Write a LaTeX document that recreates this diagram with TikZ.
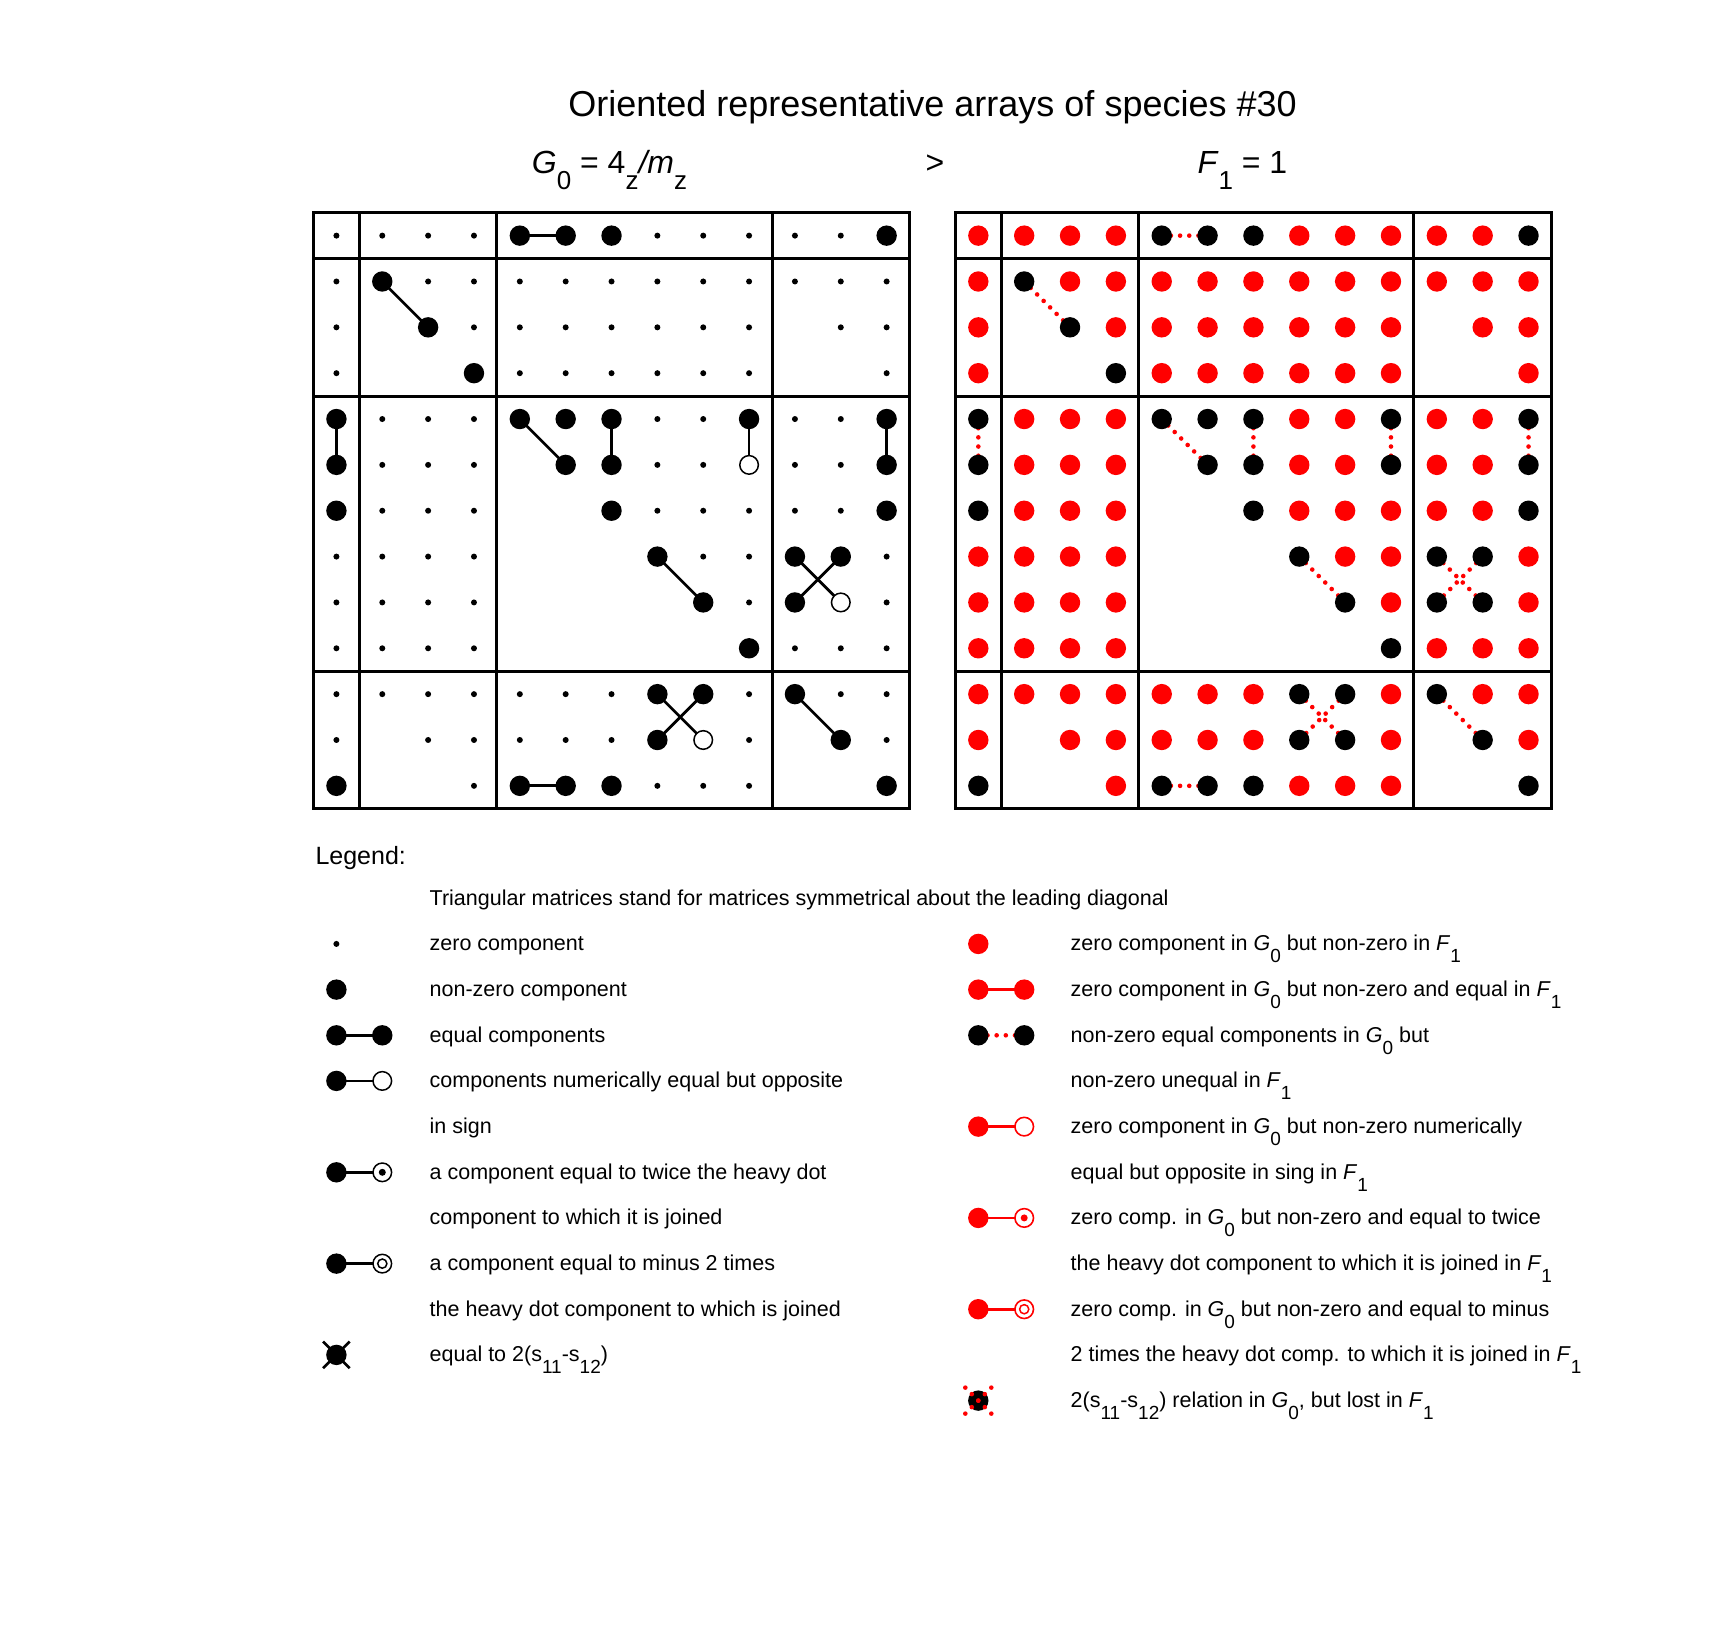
\documentclass[tikz,border=0pt]{standalone}
\usepackage{fontspec}
\usepackage{graphicx}
\setmainfont{Liberation Sans}
\pgfdeclarelayer{back}
\pgfdeclarelayer{lines}
\pgfsetlayers{back,lines,main}
\newcommand\lsub[1]{\raisebox{-0.55em}{\fontsize{19}{19}\selectfont #1}}
\newcommand\hsub[1]{\raisebox{-0.5em}{\fontsize{26}{26}\selectfont #1}}
\tikzset{
  gaz/.style={circle,fill=black,inner sep=0pt,minimum size=6pt},
  gab/.style={circle,fill=black,inner sep=0pt,minimum size=20.4pt},
  gaw/.style={circle,fill=white,draw=black,line width=1.5pt,inner sep=0pt,minimum size=18.6pt},
  gae/.style={inner sep=0pt,minimum size=0pt},
  gbz/.style={circle,fill=red,inner sep=0pt,minimum size=20.4pt},
  gbb/.style={gab}, gbw/.style={gab}, gbe/.style={gae},
  ringb/.style={circle,fill=white,draw=black,line width=1.5pt,inner sep=0pt,minimum size=18.6pt},
  ringr/.style={circle,fill=white,draw=red,line width=1.6pt,inner sep=0pt,minimum size=18.6pt},
  inring/.style={circle,draw=#1,line width=1.5pt,inner sep=0pt,minimum size=9.2pt},
  indot/.style={circle,fill=#1,inner sep=0pt,minimum size=7pt},
  conn/.style={line width=2.7pt,black},
  rsolid/.style={line width=2.7pt,red},
  rdots/.style={red,line width=4.6pt,line cap=round,dash pattern=on 0pt off 9.17pt},
  gridline/.style={line width=3pt},
  txt/.style={anchor=base west,inner sep=0pt,font=\fontsize{21.5}{26}\selectfont},
  head/.style={inner sep=0pt,font=\fontsize{32}{38}\selectfont},
}
\begin{document}
\begin{tikzpicture}[x=1pt,y=-1pt]
\useasboundingbox (0,0) rectangle (1715,1626);
\begin{pgfonlayer}{back}
\fill[white] (0,0) rectangle (1715,1626);
\end{pgfonlayer}

% title and headers
\node[anchor=base,inner sep=0pt,font=\fontsize{36}{40}\selectfont] (title) at (932.5,116.3) {Oriented representative arrays of species \#30};
\node[head,anchor=base west] (hg) at (531.7,173.3) {\textit{G}\hsub{0} = 4\hsub{z}\textit{/m}\hsub{z}};
\node[head,anchor=base] (gt) at (935,173.3) {>};
\node[head,anchor=base west] (hf) at (1197.3,173.3) {\textit{F}\hsub{1} = 1};

% grid frames
\foreach \xo in {313.5,955.4} {
  \draw[gridline] (\xo,212.7) rectangle ++(596.05,596.05);
  \foreach \kk in {1,4,10} {
    \draw[gridline] ({\xo+\kk*45.85},212.7) -- ++(0,596.05);
    \draw[gridline] (\xo,{212.7+\kk*45.85}) -- ++(596.05,0);
  }
}

% matrix entries
\foreach \rowlist [count=\ri from 0] in {
  {z,z,z,z,b,b,b,z,z,z,z,z,b},
  {z,b,z,z,z,z,z,z,z,z,z,z,z},
  {z,e,b,z,z,z,z,z,z,z,e,z,z},
  {z,e,e,b,z,z,z,z,z,z,e,e,z},
  {b,z,z,z,b,b,b,z,z,b,z,z,b},
  {b,z,z,z,e,b,b,z,z,w,z,z,b},
  {b,z,z,z,e,e,b,z,z,z,z,z,b},
  {z,z,z,z,e,e,e,b,z,z,b,b,z},
  {z,z,z,z,e,e,e,e,b,z,b,w,z},
  {z,z,z,z,e,e,e,e,e,b,z,z,z},
  {z,z,z,z,z,z,z,b,b,z,b,z,z},
  {z,e,z,z,z,z,z,b,w,z,e,b,z},
  {b,e,e,z,b,b,b,z,z,z,e,e,b}} {
  \foreach \kind [count=\ci from 0] in \rowlist {
    \edef\tmpcmd{%
      \noexpand\node[ga\kind] (a-\ri-\ci) at ({313.5+(\ci+0.5)*45.85},{212.7+(\ri+0.5)*45.85}) {};%
      \noexpand\node[gb\kind] (b-\ri-\ci) at ({955.4+(\ci+0.5)*45.85},{212.7+(\ri+0.5)*45.85}) {};}%
    \tmpcmd
  }
}

% connectors in the matrices
\begin{pgfonlayer}{lines}
\foreach \ra/\ca/\rb/\cb in {0/4/0/5,1/1/2/2,4/0/5/0,4/4/5/5,4/6/5/6,4/9/5/9,4/12/5/12,7/7/8/8,7/10/8/11,7/11/8/10,10/7/11/8,10/8/11/7,10/10/11/11,12/4/12/5} {
  \draw[conn] (a-\ra-\ca.center) -- (a-\rb-\cb.center);
  \draw[rdots] (b-\ra-\ca.center) -- (b-\rb-\cb.center);
}
\end{pgfonlayer}

% legend
\node[anchor=base west,inner sep=0pt,font=\fontsize{25}{30}\selectfont] (leg) at (315.3,864) {Legend:};
\node[txt] (t1) at (429.5,905.3) {Triangular matrices stand for matrices symmetrical about the leading diagonal};
\node[txt] (t2) at (429.5,950.9) {zero component};
\node[txt] (t3) at (429.5,996.6) {non-zero component};
\node[txt] (t4) at (429.5,1042.3) {equal components};
\node[txt] (t5) at (429.5,1087.9) {components numerically equal but opposite};
\node[txt] (t6) at (429.5,1133.6) {in sign};
\node[txt] (t7) at (429.5,1179.3) {a component equal to twice the heavy dot};
\node[txt] (t8) at (429.5,1224.9) {component to which it is joined};
\node[txt] (t9) at (429.5,1270.6) {a component equal to minus 2 times};
\node[txt] (t10) at (429.5,1316.2) {the heavy dot component to which is joined};
\node[txt] (t11) at (429.5,1361.9) {equal to 2(s\lsub{11}-s\lsub{12})};

\node[txt] (u2) at (1070.5,950.9) {zero component in \textit{G}\lsub{0} but non-zero in \textit{F}\lsub{1}};
\node[txt] (u3) at (1070.5,996.6) {zero component in \textit{G}\lsub{0} but non-zero and equal in \textit{F}\lsub{1}};
\node[txt] (u4) at (1070.5,1042.3) {non-zero equal components in \textit{G}\lsub{0} but};
\node[txt] (u5) at (1070.5,1087.9) {non-zero unequal in \textit{F}\lsub{1}};
\node[txt] (u6) at (1070.5,1133.6) {zero component in \textit{G}\lsub{0} but non-zero numerically};
\node[txt] (u7) at (1070.5,1179.3) {equal but opposite in sing in \textit{F}\lsub{1}};
\node[txt] (u8) at (1070.5,1224.9) {zero comp. in \textit{G}\lsub{0} but non-zero and equal to twice};
\node[txt] (u9) at (1070.5,1270.6) {the heavy dot component to which it is joined in \textit{F}\lsub{1}};
\node[txt] (u10) at (1070.5,1316.2) {zero comp. in \textit{G}\lsub{0} but non-zero and equal to minus};
\node[txt] (u11) at (1070.5,1361.9) {2 times the heavy dot comp. to which it is joined in \textit{F}\lsub{1}};
\node[txt] (u12) at (1070.5,1407.6) {2(s\lsub{11}-s\lsub{12}) relation in \textit{G}\lsub{0}, but lost in \textit{F}\lsub{1}};

% legend symbols, left
\node[gaz] (sz) at (336.4,943.9) {};
\node[gab] (sb) at (336.4,989.6) {};
\node[gab] (se1) at (336.4,1035.3) {};
\node[gab] (se2) at (382.3,1035.3) {};
\node[gab] (so1) at (336.4,1080.9) {};
\node[gaw] (so2) at (382.3,1080.9) {};
\node[gab] (st1) at (336.4,1172.3) {};
\node[ringb] (st2) at (382.3,1172.3) {};
\node[indot=black] (st3) at (st2.center) {};
\node[gab] (sm1) at (336.4,1263.6) {};
\node[ringb] (sm2) at (382.3,1263.6) {};
\node[inring=black] (sm3) at (sm2.center) {};
\node[gab] (sx) at (336.4,1354.9) {};
\draw[conn] ([shift={(-13.3,-13.3)}]sx.center) -- ([shift={(13.3,13.3)}]sx.center);
\draw[conn] ([shift={(-13.3,13.3)}]sx.center) -- ([shift={(13.3,-13.3)}]sx.center);

% legend symbols, right
\node[gbz] (rz) at (978.3,943.9) {};
\node[gbz] (re1) at (978.3,989.6) {};
\node[gbz] (re2) at (1024.2,989.6) {};
\node[gab] (rd1) at (978.3,1035.3) {};
\node[gab] (rd2) at (1024.2,1035.3) {};
\node[gbz] (ro1) at (978.3,1126.6) {};
\node[ringr] (ro2) at (1024.2,1126.6) {};
\node[gbz] (rt1) at (978.3,1217.9) {};
\node[ringr] (rt2) at (1024.2,1217.9) {};
\node[indot=red] (rt3) at (rt2.center) {};
\node[gbz] (rm1) at (978.3,1309.2) {};
\node[ringr] (rm2) at (1024.2,1309.2) {};
\node[inring=red] (rm3) at (rm2.center) {};
\node[gab] (rx) at (978.3,1400.6) {};
\draw[rdots,dash pattern=on 0pt off 9.19pt] ([shift={(-13,-13)}]rx.center) -- ([shift={(13,13)}]rx.center);
\draw[rdots,dash pattern=on 0pt off 9.19pt] ([shift={(-13,13)}]rx.center) -- ([shift={(13,-13)}]rx.center);

\begin{pgfonlayer}{lines}
\draw[conn] (se1.center) -- (se2.center);
\draw[conn] (so1.center) -- (so2.center);
\draw[conn] (st1.center) -- (st2.center);
\draw[conn] (sm1.center) -- (sm2.center);
\draw[rsolid] (re1.center) -- (re2.center);
\draw[rdots] (rd1.center) -- (rd2.center);
\draw[rsolid] (ro1.center) -- (ro2.center);
\draw[rsolid] (rt1.center) -- (rt2.center);
\draw[rsolid] (rm1.center) -- (rm2.center);
\end{pgfonlayer}
\end{tikzpicture}
\end{document}
